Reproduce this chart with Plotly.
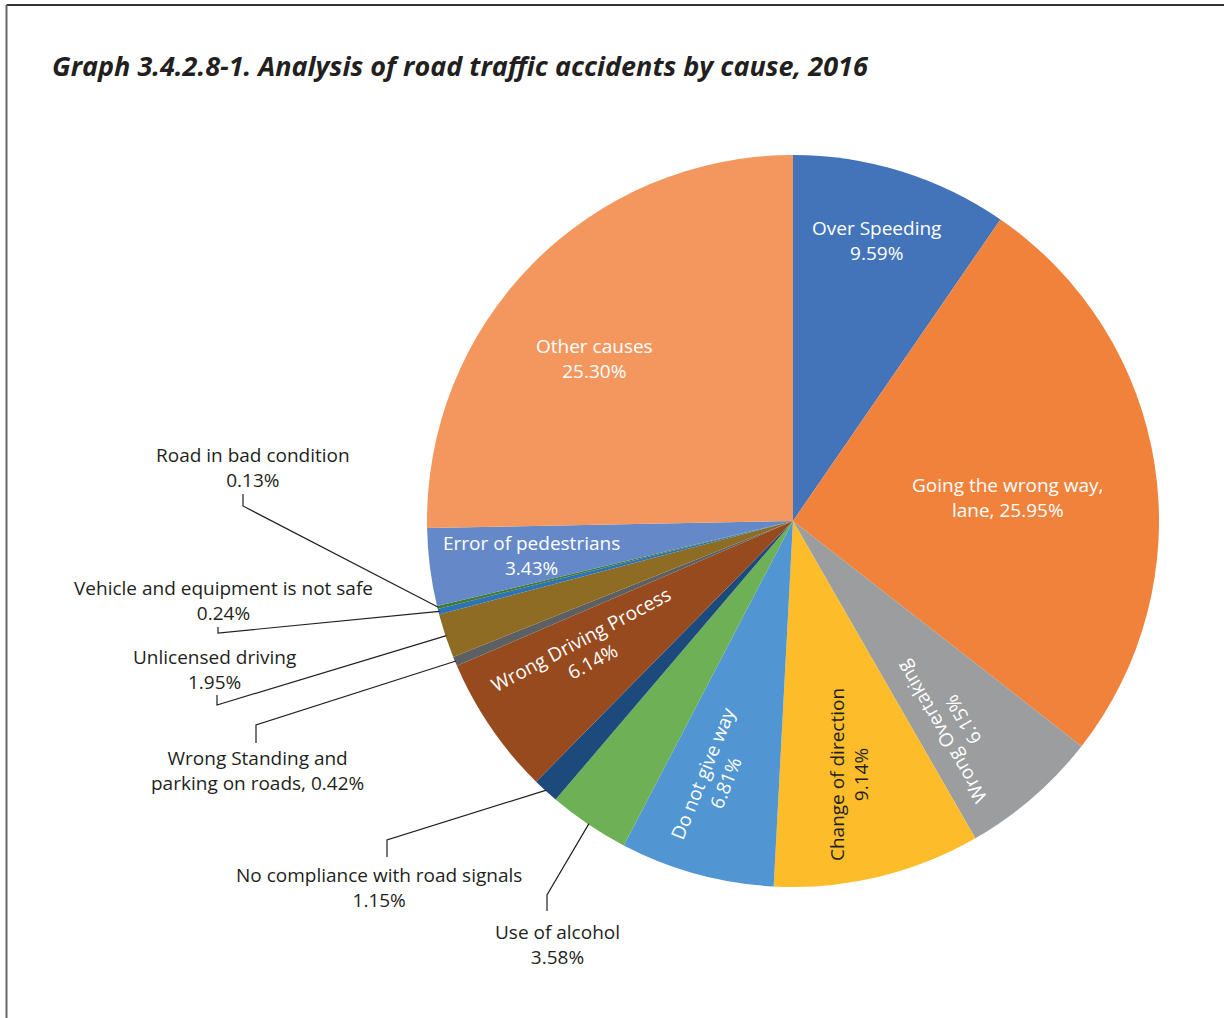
import math
import plotly.graph_objects as go

# Causes of road traffic accidents, 2016 (share of all accidents, %)
causes = [
    "Over Speeding",
    "Going the wrong way, lane",
    "Wrong Overtaking",
    "Change of direction",
    "Do not give way",
    "Use of alcohol",
    "No compliance with road signals",
    "Wrong Driving Process",
    "Wrong Standing and parking on roads",
    "Unlicensed driving",
    "Vehicle and equipment is not safe",
    "Road in bad condition",
    "Error of pedestrians",
    "Other causes",
]
shares = [9.59, 25.95, 6.15, 9.14, 6.81, 3.58, 1.15, 6.14, 0.42, 1.95, 0.24, 0.13, 3.43, 25.30]

colors = [
    "#4374BA", "#F0823C", "#9B9D9E", "#FDBD2A", "#5196D2", "#6DB055", "#1C4A7C",
    "#984A1F", "#5D6062", "#8E6C24", "#2E73B5", "#3F7B31", "#6589C8", "#F3975E",
]

# Label text for each slice (line breaks as drawn)
label_text = {
    "Over Speeding": "Over Speeding<br>9.59%",
    "Going the wrong way, lane": "Going the wrong way,<br>lane, 25.95%",
    "Wrong Overtaking": "Wrong Overtaking<br>6.15%",
    "Change of direction": "Change of direction<br>9.14%",
    "Do not give way": "Do not give way<br>6.81%",
    "Use of alcohol": "Use of alcohol<br>3.58%",
    "No compliance with road signals": "No compliance with road signals<br>1.15%",
    "Wrong Driving Process": "Wrong Driving Process<br>6.14%",
    "Wrong Standing and parking on roads": "Wrong Standing and<br>parking on roads, 0.42%",
    "Unlicensed driving": "Unlicensed driving<br>1.95%",
    "Vehicle and equipment is not safe": "Vehicle and equipment is not safe<br>0.24%",
    "Road in bad condition": "Road in bad condition<br>0.13%",
    "Error of pedestrians": "Error of pedestrians<br>3.43%",
    "Other causes": "Other causes<br>25.30%",
}

W, H = 1224, 1018
CX, CY, R = 793, 521, 366  # pie centre and radius in pixels

FONT = "Open Sans, Noto Sans, sans-serif"
TEXT_DARK = "#231F20"
LABEL_SIZE = 19


def px(x, y):
    """Pixel position -> paper coordinates."""
    return x / W, 1 - y / H


def mid_angle(i):
    """Clockwise angle from 12 o'clock (deg) of slice i's centre."""
    total = sum(shares)
    before = sum(shares[:i])
    return (before + shares[i] / 2) / total * 360


def polar(angle_deg, r):
    a = math.radians(angle_deg)
    return CX + r * math.sin(a), CY - r * math.cos(a)


fig = go.Figure(
    go.Pie(
        labels=causes,
        values=shares,
        sort=False,
        direction="clockwise",
        rotation=0,
        marker=dict(colors=colors, line=dict(width=0)),
        textinfo="none",
        hoverinfo="label+percent",
        showlegend=False,
        domain=dict(x=[(CX - R) / W, (CX + R) / W], y=[1 - (CY + R) / H, 1 - (CY - R) / H]),
    )
)

annotations = []
shapes = []

# Labels drawn inside the slices: (radius fraction, angle offset, text angle, colour)
inside = {
    "Over Speeding": (0.80, -0.7, 0, "white"),
    "Going the wrong way, lane": (0.59, 2.4, 0, "white"),
    "Wrong Overtaking": (0.71, 3.0, -120, "white"),
    "Change of direction": (0.71, 0.9, -90, TEXT_DARK),
    "Do not give way": (0.735, 1.8, -68, "white"),
    "Wrong Driving Process": (0.665, 2.2, -28, "white"),
    "Error of pedestrians": (0.72, -0.3, 0, "white"),
    "Other causes": (0.70, -5.1, 0, "white"),
}
for name, (frac, dang, tang, col) in inside.items():
    i = causes.index(name)
    x, y = polar(mid_angle(i) + dang, frac * R)
    xp, yp = px(x, y)
    annotations.append(dict(
        x=xp, y=yp, xref="paper", yref="paper", text=label_text[name],
        showarrow=False, textangle=tang, xanchor="center", yanchor="middle",
        font=dict(family=FONT, size=LABEL_SIZE, color=col),
    ))

# Labels outside the pie with leader lines:
# (elbow point, tick end point, label centre) in pixels
outside = {
    "Road in bad condition": ((243, 506), (243, 494), (253, 467)),
    "Vehicle and equipment is not safe": ((218, 633), (218, 627), (224, 600)),
    "Unlicensed driving": ((217, 705), (217, 695), (214, 669)),
    "Wrong Standing and parking on roads": ((256, 725), (256, 743), (257, 770)),
    "No compliance with road signals": ((387, 840), (387, 857), (379, 887)),
    "Use of alcohol": ((547, 895), (547, 911), (557, 944)),
}
for name, (elbow, tick, lab) in outside.items():
    i = causes.index(name)
    ex, ey = polar(mid_angle(i), R - 1)
    pts = [px(ex, ey), px(*elbow), px(*tick)]
    path = "M {} {} L {} {} L {} {}".format(
        pts[0][0], pts[0][1], pts[1][0], pts[1][1], pts[2][0], pts[2][1]
    )
    shapes.append(dict(type="path", path=path, xref="paper", yref="paper",
                       line=dict(color=TEXT_DARK, width=1.2)))
    lx, ly = px(*lab)
    annotations.append(dict(
        x=lx, y=ly, xref="paper", yref="paper", text=label_text[name],
        showarrow=False, xanchor="center", yanchor="middle",
        font=dict(family=FONT, size=LABEL_SIZE, color=TEXT_DARK),
    ))

# Title
tx, ty = px(50, 65)
annotations.append(dict(
    x=tx, y=ty, xref="paper", yref="paper",
    text="<b><i>Graph 3.4.2.8-1. Analysis of road traffic accidents by cause, 2016</i></b>",
    showarrow=False, xanchor="left", yanchor="middle",
    font=dict(family="Open Sans, sans-serif", size=27, color=TEXT_DARK),
))

# Frame around the figure (top and left edges visible)
x0, y0 = px(6.5, 5)
x1, y1 = px(1240, 1040)
shapes.append(dict(type="line", xref="paper", yref="paper", x0=x0, y0=y0, x1=x1, y1=y0,
                   line=dict(color="#333333", width=2)))
shapes.append(dict(type="line", xref="paper", yref="paper", x0=x0, y0=y0, x1=x0, y1=y1,
                   line=dict(color="#666666", width=2)))

fig.update_layout(
    width=W, height=H,
    margin=dict(l=0, r=0, t=0, b=0),
    paper_bgcolor="white",
    plot_bgcolor="white",
    annotations=annotations,
    shapes=shapes,
)

fig.write_html("out.html")
